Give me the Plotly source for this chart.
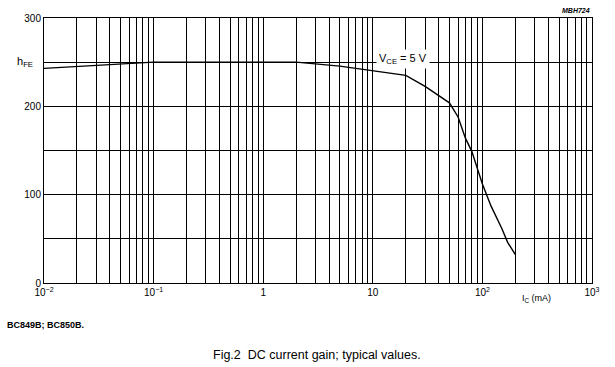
import plotly.graph_objects as go

# Data
ic_ma = [0.01, 0.02, 0.03, 0.05, 0.1, 0.5, 1, 2, 5, 10, 20, 30, 40, 50, 60, 70, 80, 90, 100, 120, 150, 170, 200]
hfe = [243, 245, 246.5, 248, 250, 250, 250, 250, 245.5, 240.5, 235, 222.5, 212, 204, 188, 164, 149, 128, 112, 87, 62, 46, 32]

x_major = [0.01, 0.1, 1, 10, 100, 1000]
x_labels = ["10<sup>−2</sup>", "10<sup>−1</sup>", "1", "10", "10<sup>2</sup>", "10<sup>3</sup>"]
x_minor = [m * d for d in [0.01, 0.1, 1, 10, 100] for m in range(2, 10)]
y_major = [0, 100, 200, 300]
y_minor = [50, 150, 250]

FONT = "Liberation Sans, Arial, sans-serif"

L, R, T, B = 44, 23, 18, 84
PW, PH = 615 - L - R, 367 - T - B


def px(x):
    return (x - L) / PW


def py(y):
    return (367 - B - y) / PH


fig = go.Figure()
fig.add_trace(go.Scatter(x=ic_ma, y=hfe, mode="lines",
                         line=dict(color="black", width=1.4), showlegend=False,
                         hoverinfo="skip"))

fig.update_layout(
    width=615, height=367,
    margin=dict(l=L, r=R, t=T, b=B),
    paper_bgcolor="white", plot_bgcolor="white",
    font=dict(family=FONT, size=10, color="black"),
    xaxis=dict(type="log", range=[-2, 3], tickmode="array", tickvals=x_major,
               ticktext=x_labels, showgrid=True, gridcolor="black", gridwidth=1,
               showline=True, linecolor="black", linewidth=1, mirror=True,
               ticks="", zeroline=False,
               minor=dict(tickmode="array", tickvals=x_minor, showgrid=True,
                          gridcolor="black", gridwidth=1, ticks="")),
    yaxis=dict(range=[0, 300], tickmode="array", tickvals=y_major,
               showgrid=False, gridcolor="black",
               showline=True, linecolor="black", linewidth=1, mirror=True,
               ticks="", zeroline=False,
               minor=dict(tickmode="array", tickvals=y_minor + y_major, showgrid=True,
                          gridcolor="black", gridwidth=1, ticks="")),
)

fig.add_annotation(text="h<sub>FE</sub>", xref="paper", yref="paper",
                   x=px(25), y=py(62), xanchor="center", yanchor="middle",
                   showarrow=False, font=dict(size=11))
fig.add_annotation(text="V<sub>CE</sub> = 5 V", x=1.28, y=254, xref="x", yref="y",
                   xanchor="center", yanchor="middle", showarrow=False,
                   bgcolor="white", borderpad=2, font=dict(size=11))
fig.add_annotation(text="I<sub>C</sub> (mA)", x=2.49, y=-0.03, xref="x", yref="paper",
                   xanchor="center", yanchor="top", showarrow=False, font=dict(size=9))
fig.add_annotation(text="<b><i>MBH724</i></b>", x=px(592), y=py(10), xref="paper", yref="paper",
                   xanchor="right", yanchor="middle", showarrow=False, font=dict(size=7))
fig.add_annotation(text="<b>BC849B; BC850B.</b>", x=px(5), y=py(325), xref="paper", yref="paper",
                   xanchor="left", yanchor="middle", showarrow=False, font=dict(size=9))
fig.add_annotation(text="Fig.2  DC current gain; typical values.", showarrow=False,
                   xref="paper", yref="paper", x=px(317), y=py(355), xanchor="center",
                   yanchor="middle", font=dict(size=12.5))

fig.write_html("out.html")
